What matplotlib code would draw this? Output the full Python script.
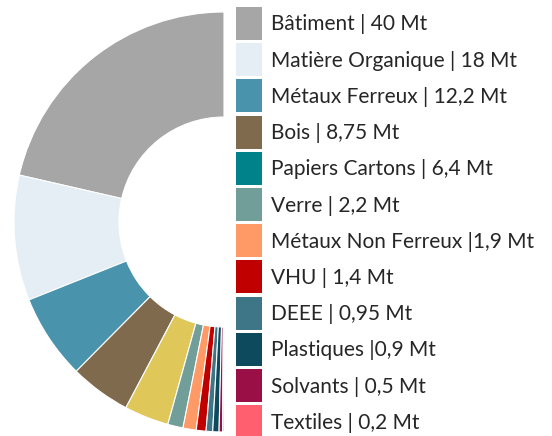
import matplotlib.pyplot as plt
from matplotlib.patches import Rectangle

plt.rcParams['font.family'] = ['Lato', 'DejaVu Sans']

# données (Mt)
labels = ["Bâtiment | 40 Mt", "Matière Organique | 18 Mt", "Métaux Ferreux | 12,2 Mt",
          "Bois | 8,75 Mt", "Papiers Cartons | 6,4 Mt", "Verre | 2,2 Mt",
          "Métaux Non Ferreux |1,9 Mt", "VHU | 1,4 Mt", "DEEE | 0,95 Mt",
          "Plastiques |0,9 Mt", "Solvants | 0,5 Mt", "Textiles | 0,2 Mt"]
valeurs = [40, 18, 12.2, 8.75, 6.4, 2.2, 1.9, 1.4, 0.95, 0.9, 0.5, 0.2]
couleurs = ["#A6A6A6", "#E4EEF4", "#4A93AD", "#7F6A4E", "#00828A", "#719E99",
            "#FF9966", "#C00000", "#3E7688", "#0E4A5E", "#9A1046", "#FF5F6E"]
# dans le camembert, Papiers Cartons est en jaune
couleurs_pie = list(couleurs)
couleurs_pie[4] = "#E0C75A"

W, H = 552, 436
fig = plt.figure(figsize=(W / 100, H / 100), dpi=100)

# demi-anneau : on ajoute une part invisible égale au total
cx, cy, r = 224, 222, 210
ax = fig.add_axes([(cx - r) / W, (H - cy - r) / H, 2 * r / W, 2 * r / H])
total = sum(valeurs)
wedges, _ = ax.pie(valeurs + [total], colors=couleurs_pie + ["none"],
                   startangle=90, counterclock=True, radius=1,
                   wedgeprops=dict(width=0.5, edgecolor="white", linewidth=0.8))
wedges[-1].set_edgecolor("none")
ax.set_xlim(-1, 1)
ax.set_ylim(-1, 1)
ax.set_aspect("equal")
ax.axis("off")

# légende à la main
x0, w_box, h_box, pas, y0 = 236, 26, 33, 36.2, 7
for i, (lab, col) in enumerate(zip(labels, couleurs)):
    top = y0 + i * pas
    fig.patches.append(Rectangle((x0 / W, 1 - (top + h_box) / H), w_box / W, h_box / H,
                                 transform=fig.transFigure, facecolor=col,
                                 edgecolor="none"))
    fig.text(271 / W, 1 - (top + h_box / 2 + 1) / H, lab, fontsize=15,
             color="#262626", va="center", ha="left")

fig.savefig("out.png", dpi=100)
